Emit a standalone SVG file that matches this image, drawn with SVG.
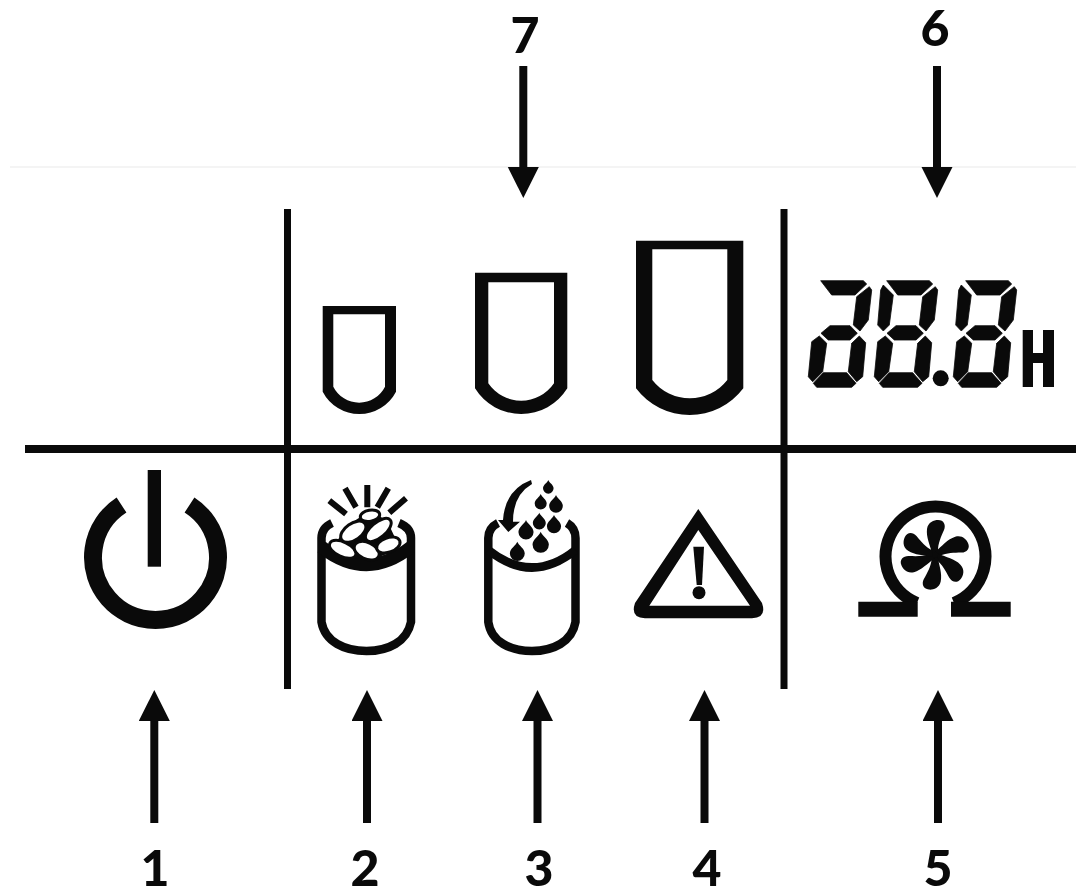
<svg xmlns="http://www.w3.org/2000/svg" width="1076" height="890" viewBox="0 0 1076 890">
<style>
.num{font-family:Lato,"Open Sans","Liberation Sans",sans-serif;font-weight:900;font-size:50px;fill:#0a0a0a;text-anchor:middle}
.rule{stroke:#0a0a0a;fill:none}
.arr{stroke:#0a0a0a;stroke-width:8;fill:none}
.ink{fill:#0a0a0a}
.seg{fill:#0a0a0a;stroke:#0a0a0a;stroke-width:.8;stroke-linejoin:round}
.line{fill:none;stroke:#0a0a0a}
.grain{fill:#fff;stroke:#0a0a0a;stroke-width:6;paint-order:stroke}
</style>
<defs>
<marker id="head" markerUnits="userSpaceOnUse" markerWidth="32" markerHeight="32" refX="1" refY="15.5" orient="auto"><path d="M0 0L31 15.5L0 31Z" fill="#0a0a0a"/></marker>
<g id="segs">
<path d="M820.700 280.700H863.300L866.700 284L855 295H831.700Z"/>
<path d="M869.300 286.700L871.700 290L868.300 320L860 331L853.300 325L856.700 296.700Z"/>
<path d="M821 333.300L830 325.700H850L857.300 333.300L850 340H828.300Z"/>
<path d="M819.300 336L826.700 343.300L822.700 371.700L812.700 381.700L808.300 376.700L811.700 341.700Z"/>
<path d="M859.300 336L865.700 342.700L862.700 376.700L856.700 381.700L848.300 371.700L851.700 343.300Z"/>
<path d="M813.300 383.300L823.300 372.700H846.700L856 383.300L851.700 387.300H816.700Z"/>
</g>
<path id="ul" d="M883.300 285L893.300 295L889.300 325L883.300 331L877.700 325L880.700 290Z"/>
<path id="drop" d="M0 0C2 6 12 11 12 19A12 12 0 1 1-12 19C-12 11-2 6 0 0Z"/>
<path id="blade" d="M-3-2C-5-10-9-18-8-26C-7-33-1-35 3-35C9-35 11-30 9-25C6-18 3-12 3-4Z"/>
</defs>
<rect width="1076" height="890" fill="#fff"/>
<g id="frame">
<line x1="10" y1="167" x2="1076" y2="167" stroke="#f0f0f0" stroke-width="1.5"/>
<line class="rule" x1="25" y1="449" x2="1076" y2="449" stroke-width="8"/>
<line class="rule" x1="287.500" y1="209" x2="287.500" y2="689" stroke-width="7"/>
<line class="rule" x1="784" y1="209" x2="784" y2="689" stroke-width="7"/>
</g>
<g id="connectors">
<line class="arr" x1="154.300" y1="823" x2="154.300" y2="720" marker-end="url(#head)"/>
<line class="arr" x1="367" y1="823" x2="367" y2="720" marker-end="url(#head)"/>
<line class="arr" x1="537.500" y1="823" x2="537.500" y2="720" marker-end="url(#head)"/>
<line class="arr" x1="704.500" y1="823" x2="704.500" y2="720" marker-end="url(#head)"/>
<line class="arr" x1="938" y1="823" x2="938" y2="720" marker-end="url(#head)"/>
<line class="arr" x1="523.300" y1="66" x2="523.300" y2="168" marker-end="url(#head)"/>
<line class="arr" x1="937" y1="66" x2="937" y2="168" marker-end="url(#head)"/>
</g>
<g id="labels">
<text class="num" x="155" y="886">1</text>
<text class="num" x="365" y="886">2</text>
<text class="num" x="539" y="886">3</text>
<text class="num" x="707" y="886">4</text>
<text class="num" x="938" y="886">5</text>
<text class="num" x="935" y="46">6</text>
<text class="num" x="525" y="53">7</text>
</g>
<g id="power">
<path class="line" stroke-width="18" d="M121.500 505A62.500 62.500 0 1 0 189.500 505"/>
<rect class="ink" x="147.700" y="470" width="13.300" height="96.700"/>
</g>
<g id="tank-small">
<path class="ink" fill-rule="evenodd" d="M322.700 306H396V391.700A41.300 41.300 0 0 1 322.700 391.700ZM333.300 314.300V386.700A28.900 28.900 0 0 0 385 386.700V314.300Z"/>
</g>
<g id="tank-medium">
<path class="ink" fill-rule="evenodd" d="M475 272.700H567.300V388.300A54.300 54.300 0 0 1 475 388.300ZM488.300 282.300V383.300A39.700 39.700 0 0 0 554 383.300V282.300Z"/>
</g>
<g id="tank-large">
<path class="ink" fill-rule="evenodd" d="M636 240.700H743.300V388.300A67.200 67.200 0 0 1 636 388.300ZM652.300 249.300V380A47.600 47.600 0 0 0 727.300 380V249.300Z"/>
</g>
<g id="display">
<g class="seg">
<use href="#segs"/>
<use href="#segs" x="66"/>
<use href="#ul"/>
<use href="#segs" x="145"/>
<use href="#ul" x="78"/>
</g>
<circle class="ink" cx="940.700" cy="378.300" r="8"/>
<path class="ink" d="M1022.700 330H1033V353H1043V330H1054V387H1043V363H1033V387H1022.700Z"/>
</g>
<g id="tank-grain">
<path class="line" stroke-width="8.500" d="M332 523Q321.500 528 321.500 538V622C325 642 345 651 366.500 651C388 651 407 642 411 622V538Q411 528 399 523"/>
<path class="line" stroke-width="13" d="M321.500 547Q366.500 582 411 547"/>
<path class="ink" d="M335 545Q345 525 362 516H380Q392 525 397 545Q390 556 366 560Q345 558 335 545Z"/>
<g class="grain">
<ellipse cx="370" cy="515.700" rx="8.300" ry="4" transform="rotate(-10 370 515.700)"/>
<ellipse cx="353.300" cy="531.700" rx="12.700" ry="6.700" transform="rotate(-35 353.300 531.700)"/>
<ellipse cx="378.300" cy="530" rx="14" ry="6" transform="rotate(-40 378.300 530)"/>
<ellipse cx="342.700" cy="549.300" rx="12.700" ry="5.700" transform="rotate(25 342.700 549.300)"/>
<ellipse cx="366.700" cy="550.700" rx="11.700" ry="6.700" transform="rotate(25 366.700 550.700)"/>
<ellipse cx="388.300" cy="545" rx="10.700" ry="5.700" transform="rotate(-20 388.300 545)"/>
</g>
<path class="line" stroke-width="6" d="M329.300 500.700L346 514M345 488.300L356 507.300M367.300 485V507.300M388.300 488.300L377.300 507.300M406 498.300L389.300 512.700"/>
</g>
<g id="tank-water">
<path class="line" stroke-width="8.500" d="M498 523Q488.300 528 488.300 538V622C491 642 511 651 532 651C553 651 572 642 575.500 622V538Q575.500 528 567 523"/>
<path class="line" stroke-width="8.500" d="M488.300 550Q532 585 575.500 550"/>
<path class="ink" d="M531 480Q505 490 503 520H498L508.300 532L520 521.700H513Q513 495 532 484Z"/>
<g class="ink">
<use href="#drop" transform="translate(548.300 480) scale(.44)"/>
<use href="#drop" transform="translate(540.700 494) scale(.5)"/>
<use href="#drop" transform="translate(556 495) scale(.57)"/>
<use href="#drop" transform="translate(539.300 512.700) scale(.54)"/>
<use href="#drop" transform="translate(554 515) scale(.59)"/>
<use href="#drop" transform="translate(526 520) scale(.63)"/>
<use href="#drop" transform="translate(540.700 531.700) scale(.68)"/>
<use href="#drop" transform="translate(517.300 541.700) scale(.62)"/>
</g>
</g>
<g id="warning">
<path class="ink" fill-rule="evenodd" d="M698.300 509L762 603Q767 618 752 618.300H645Q630 618 635 603ZM698.300 530L649.300 605.700H750Z"/>
<path class="ink" d="M693.300 546.700H704L702 585H696.700Z"/>
<circle class="ink" cx="699" cy="592.700" r="6.500"/>
</g>
<g id="fan">
<path class="line" stroke-width="12" d="M917 603A50 50 0 1 1 954 603"/>
<path class="ink" d="M858.300 601.700H917.700V616.700H858.300ZM951 601.700H1010.700V616.700H951Z"/>
<circle class="ink" cx="935" cy="555" r="5.500"/>
<g class="ink">
<use href="#blade" transform="translate(935 555) rotate(0)"/>
<use href="#blade" transform="translate(935 555) rotate(65)"/>
<use href="#blade" transform="translate(935 555) rotate(128)"/>
<use href="#blade" transform="translate(935 555) rotate(185)"/>
<use href="#blade" transform="translate(935 555) rotate(248)"/>
<use href="#blade" transform="translate(935 555) rotate(296)"/>
</g>
</g>
</svg>
